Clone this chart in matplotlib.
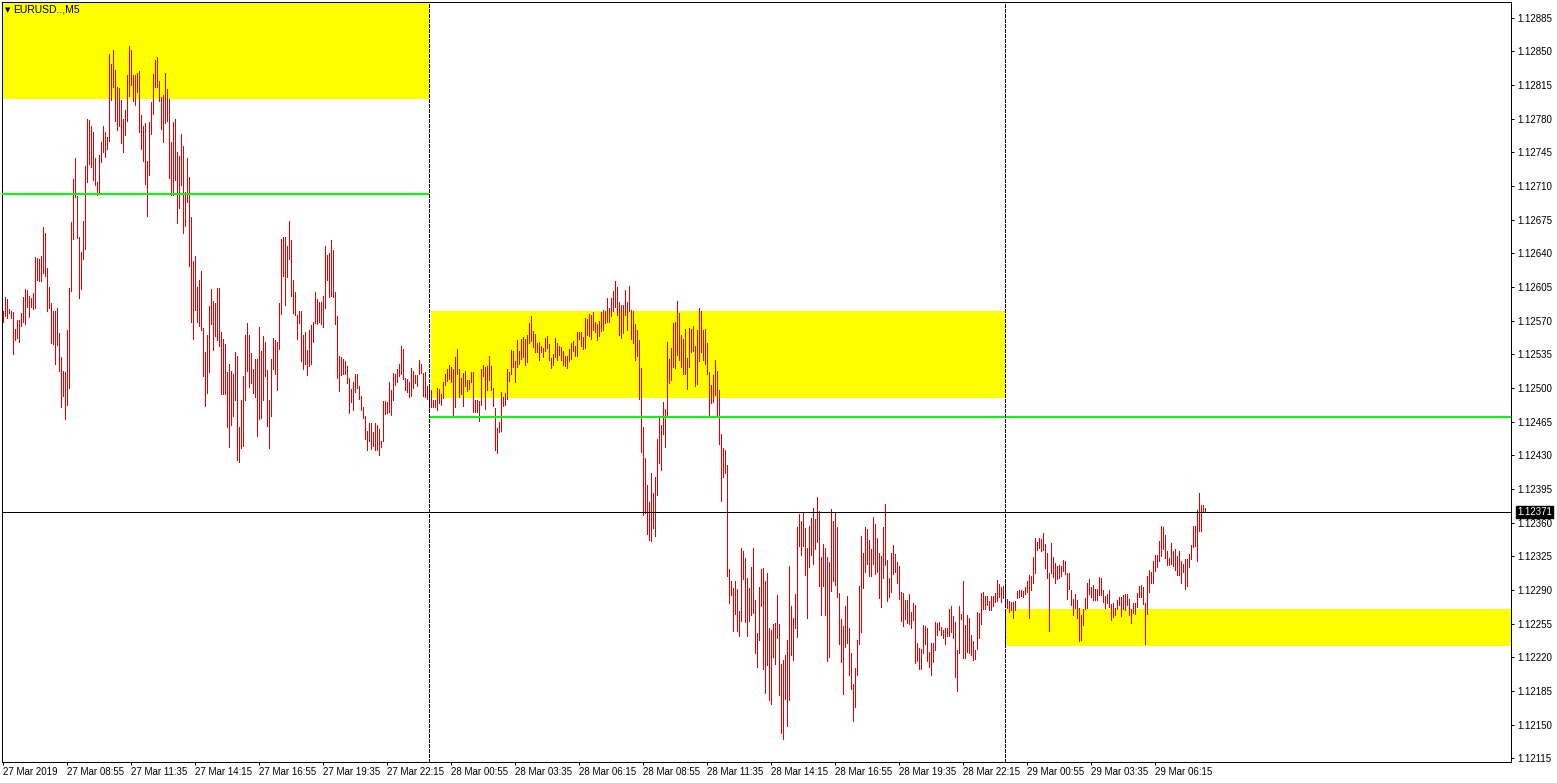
import numpy as np
import matplotlib.pyplot as plt
from matplotlib.patches import Rectangle

plt.rcParams['font.family'] = ['Liberation Sans', 'DejaVu Sans']
plt.rcParams['lines.scale_dashes'] = False

# EURUSD M5 bars, prices in points (1.12580 -> 12580), one bar every 5 min from 27 Mar 06:15
high_27 = [12580, 12595, 12592, 12582, 12580, 12579, 12561, 12571, 12571, 12578,
           12595, 12603, 12602, 12596, 12594, 12599, 12636, 12635, 12634, 12637,
           12667, 12661, 12625, 12605, 12588, 12580, 12580, 12583, 12557, 12532,
           12518, 12517, 12560, 12604, 12673, 12717, 12739, 12700, 12657, 12641,
           12674, 12731, 12780, 12779, 12772, 12766, 12739, 12714, 12742, 12756,
           12772, 12766, 12761, 12847, 12837, 12851, 12830, 12813, 12812, 12799,
           12780, 12789, 12825, 12855, 12851, 12825, 12825, 12827, 12829, 12784,
           12772, 12775, 12736, 12776, 12797, 12826, 12841, 12844, 12819, 12802,
           12805, 12827, 12811, 12800, 12756, 12776, 12780, 12745, 12741, 12764,
           12751, 12704, 12739, 12719, 12678, 12632, 12637, 12605, 12612, 12622,
           12562, 12537, 12555, 12585, 12603, 12590, 12588, 12604, 12604, 12558,
           12551, 12546, 12517, 12525, 12518, 12514, 12537, 12533, 12459, 12488,
           12512, 12555, 12568, 12555, 12536, 12520, 12530, 12530, 12563, 12538,
           12554, 12548, 12519, 12488, 12530, 12552, 12550, 12548, 12588, 12655,
           12657, 12657, 12648, 12674, 12654, 12612, 12600, 12576, 12580, 12580,
           12555, 12558, 12539, 12560, 12565, 12569, 12600, 12592, 12589, 12589,
           12596, 12648, 12638, 12640, 12654, 12643, 12600, 12575, 12533, 12532,
           12530, 12528, 12523, 12510, 12499, 12506, 12515, 12514, 12502, 12492,
           12480, 12471, 12455, 12464, 12464, 12454, 12464, 12461, 12457, 12445,
           12486, 12486, 12485, 12506, 12498, 12516, 12515, 12520, 12525, 12544,
           12541, 12510, 12509, 12506, 12521, 12518, 12513, 12513, 12529, 12525,
           12516, 12517, 12502]
low_27 = [12569, 12575, 12573, 12578, 12573, 12535, 12550, 12552, 12548, 12564,
          12569, 12567, 12584, 12574, 12584, 12582, 12583, 12612, 12611, 12611,
          12619, 12616, 12580, 12583, 12547, 12546, 12525, 12545, 12518, 12480,
          12492, 12468, 12482, 12500, 12601, 12655, 12698, 12656, 12594, 12603,
          12634, 12644, 12714, 12733, 12730, 12716, 12711, 12701, 12702, 12735,
          12745, 12740, 12748, 12757, 12799, 12813, 12778, 12768, 12772, 12755,
          12745, 12763, 12777, 12804, 12815, 12798, 12794, 12808, 12766, 12748,
          12736, 12712, 12679, 12721, 12764, 12785, 12813, 12813, 12798, 12769,
          12756, 12775, 12778, 12718, 12701, 12701, 12716, 12671, 12687, 12711,
          12661, 12668, 12693, 12627, 12569, 12551, 12581, 12569, 12564, 12560,
          12512, 12481, 12495, 12517, 12567, 12539, 12554, 12550, 12544, 12494,
          12494, 12494, 12459, 12439, 12462, 12471, 12488, 12425, 12423, 12438,
          12440, 12487, 12518, 12501, 12505, 12495, 12491, 12450, 12468, 12469,
          12487, 12512, 12460, 12438, 12471, 12520, 12514, 12498, 12540, 12577,
          12616, 12586, 12615, 12634, 12596, 12578, 12576, 12551, 12568, 12528,
          12520, 12525, 12513, 12523, 12525, 12548, 12568, 12566, 12569, 12567,
          12563, 12583, 12612, 12595, 12596, 12595, 12567, 12510, 12497, 12513,
          12515, 12515, 12505, 12474, 12485, 12477, 12496, 12500, 12489, 12477,
          12469, 12447, 12435, 12445, 12437, 12440, 12435, 12435, 12430, 12439,
          12445, 12473, 12474, 12475, 12472, 12488, 12503, 12506, 12512, 12514,
          12509, 12498, 12496, 12491, 12492, 12500, 12505, 12502, 12515, 12516,
          12492, 12491, 12489]

high_28 = [12502, 12498, 12488, 12488, 12500, 12499, 12494,
           12506, 12515, 12520, 12524, 12522, 12520, 12532, 12540, 12520, 12510,
           12516, 12518, 12508, 12508, 12517, 12517, 12487, 12487, 12486, 12520,
           12524, 12522, 12523, 12533, 12523, 12500, 12479, 12458, 12465, 12496,
           12491, 12495, 12520, 12517, 12539, 12538, 12528, 12550, 12538, 12551,
           12553, 12551, 12555, 12568, 12575, 12559, 12556, 12547, 12548, 12544,
           12542, 12552, 12554, 12546, 12531, 12535, 12552, 12547, 12544, 12543,
           12538, 12533, 12533, 12541, 12547, 12549, 12544, 12558, 12558, 12558,
           12553, 12573, 12572, 12577, 12576, 12579, 12569, 12566, 12570, 12579,
           12581, 12580, 12593, 12583, 12594, 12601, 12611, 12605, 12589, 12586,
           12586, 12602, 12589, 12606, 12581, 12580, 12567, 12560, 12550, 12521,
           12459, 12427, 12399, 12381, 12412, 12391, 12407, 12447, 12469, 12462,
           12485, 12478, 12548, 12530, 12542, 12568, 12569, 12590, 12578, 12555,
           12551, 12561, 12531, 12562, 12561, 12564, 12544, 12560, 12583, 12580,
           12560, 12561, 12547, 12517, 12503, 12513, 12529, 12518, 12498, 12452,
           12438, 12436, 12420, 12312, 12299, 12292, 12299, 12291, 12268, 12334,
           12331, 12323, 12302, 12292, 12314, 12334, 12280, 12245, 12293, 12312,
           12313, 12299, 12308, 12250, 12248, 12255, 12256, 12285, 12255, 12213,
           12217, 12222, 12238, 12315, 12273, 12261, 12286, 12355, 12369, 12362,
           12370, 12354, 12334, 12357, 12365, 12375, 12364, 12387, 12372, 12324,
           12338, 12334, 12324, 12319, 12374, 12362, 12370, 12355, 12287, 12260,
           12253, 12273, 12284, 12251, 12224, 12192, 12209, 12238, 12294, 12346,
           12328, 12355, 12353, 12342, 12333, 12366, 12359, 12344, 12328, 12325,
           12355, 12379, 12321, 12302, 12328, 12337, 12327, 12319, 12315, 12288,
           12287, 12280, 12280, 12286, 12267, 12276, 12274, 12235, 12230, 12229,
           12254, 12253, 12251, 12226, 12235, 12235, 12257, 12256, 12257, 12252,
           12248, 12251, 12250, 12270, 12273, 12263, 12257, 12228, 12273, 12265,
           12299, 12254, 12264, 12261, 12243, 12237, 12228, 12267, 12266, 12287,
           12288, 12284, 12284, 12279, 12284, 12284, 12287, 12300, 12296, 12293,
           12294]
low_28 = [12479, 12480, 12480, 12480, 12477, 12484, 12482,
          12490, 12503, 12507, 12509, 12506, 12472, 12480, 12514, 12491, 12494,
          12481, 12502, 12497, 12499, 12506, 12475, 12475, 12475, 12466, 12482,
          12512, 12478, 12498, 12508, 12498, 12481, 12436, 12432, 12454, 12455,
          12481, 12482, 12489, 12507, 12514, 12522, 12506, 12522, 12525, 12530,
          12532, 12524, 12527, 12547, 12549, 12543, 12537, 12537, 12529, 12537,
          12532, 12538, 12542, 12529, 12521, 12524, 12532, 12529, 12534, 12529,
          12524, 12523, 12521, 12528, 12530, 12538, 12533, 12533, 12551, 12544,
          12540, 12542, 12555, 12554, 12551, 12560, 12558, 12550, 12554, 12559,
          12560, 12568, 12569, 12569, 12575, 12580, 12584, 12576, 12555, 12552,
          12557, 12576, 12560, 12580, 12551, 12547, 12529, 12533, 12489, 12433,
          12368, 12370, 12348, 12342, 12341, 12354, 12346, 12389, 12422, 12415,
          12452, 12439, 12472, 12505, 12508, 12522, 12521, 12534, 12529, 12522,
          12515, 12515, 12499, 12522, 12537, 12538, 12502, 12504, 12528, 12537,
          12529, 12525, 12515, 12472, 12484, 12485, 12493, 12472, 12442, 12382,
          12407, 12412, 12305, 12276, 12285, 12247, 12265, 12247, 12242, 12258,
          12301, 12257, 12242, 12258, 12264, 12266, 12224, 12210, 12238, 12273,
          12208, 12183, 12212, 12176, 12171, 12220, 12213, 12240, 12181, 12141,
          12135, 12177, 12149, 12176, 12222, 12217, 12250, 12241, 12336, 12326,
          12336, 12306, 12261, 12314, 12326, 12317, 12333, 12340, 12294, 12264,
          12294, 12264, 12216, 12220, 12289, 12299, 12295, 12283, 12234, 12215,
          12182, 12231, 12235, 12202, 12187, 12154, 12168, 12202, 12234, 12246,
          12292, 12309, 12317, 12305, 12305, 12317, 12307, 12309, 12282, 12272,
          12302, 12316, 12279, 12283, 12288, 12307, 12309, 12297, 12281, 12258,
          12253, 12260, 12256, 12255, 12250, 12259, 12214, 12216, 12208, 12208,
          12225, 12234, 12216, 12210, 12202, 12215, 12228, 12243, 12248, 12243,
          12240, 12234, 12242, 12242, 12246, 12240, 12200, 12185, 12225, 12260,
          12219, 12219, 12226, 12225, 12222, 12217, 12218, 12229, 12240, 12255,
          12270, 12270, 12274, 12269, 12269, 12273, 12277, 12279, 12283, 12278,
          12282]

high_29 = [12297, 12281, 12279, 12277, 12278, 12279, 12289, 12290, 12290,
           12289, 12293, 12299, 12306, 12305, 12324, 12344, 12340, 12344, 12343,
           12349, 12338, 12328, 12308, 12339, 12324, 12318, 12315, 12316, 12315,
           12321, 12320, 12308, 12308, 12290, 12281, 12286, 12280, 12271, 12264,
           12270, 12282, 12297, 12301, 12293, 12295, 12291, 12291, 12304, 12302,
           12290, 12284, 12286, 12290, 12275, 12276, 12271, 12280, 12283, 12283,
           12285, 12286, 12286, 12281, 12270, 12276, 12276, 12287, 12294, 12295,
           12293, 12276, 12305, 12311, 12309, 12320, 12326, 12326, 12341, 12357,
           12355, 12347, 12331, 12323, 12339, 12331, 12333, 12325, 12331, 12320,
           12317, 12322, 12322, 12327, 12337, 12356, 12356, 12373, 12391, 12378,
           12378, 12375]
low_29 = [12274, 12271, 12267, 12269, 12261, 12269, 12282, 12283, 12284,
          12283, 12286, 12288, 12261, 12290, 12297, 12308, 12332, 12334, 12331,
          12332, 12313, 12302, 12247, 12308, 12303, 12297, 12301, 12302, 12305,
          12310, 12307, 12281, 12291, 12274, 12264, 12271, 12261, 12237, 12238,
          12254, 12270, 12271, 12286, 12283, 12280, 12280, 12280, 12285, 12285,
          12278, 12271, 12276, 12272, 12259, 12262, 12264, 12270, 12274, 12263,
          12270, 12269, 12274, 12264, 12256, 12266, 12265, 12272, 12283, 12283,
          12275, 12234, 12265, 12288, 12297, 12297, 12310, 12314, 12320, 12325,
          12333, 12323, 12316, 12316, 12317, 12315, 12311, 12306, 12306, 12297,
          12309, 12291, 12294, 12314, 12322, 12335, 12336, 12320, 12351, 12351,
          12372, 12371]

time_labels = ['27 Mar 2019', '27 Mar 08:55', '27 Mar 11:35', '27 Mar 14:15', '27 Mar 16:55',
               '27 Mar 19:35', '27 Mar 22:15', '28 Mar 00:55', '28 Mar 03:35', '28 Mar 06:15',
               '28 Mar 08:55', '28 Mar 11:35', '28 Mar 14:15', '28 Mar 16:55', '28 Mar 19:35',
               '28 Mar 22:15', '29 Mar 00:55', '29 Mar 03:35', '29 Mar 06:15']
price_labels = [1.12115, 1.12150, 1.12185, 1.12220, 1.12255, 1.12290, 1.12325, 1.12360,
                1.12395, 1.12430, 1.12465, 1.12500, 1.12535, 1.12570, 1.12605, 1.12640,
                1.12675, 1.12710, 1.12745, 1.12780, 1.12815, 1.12850, 1.12885]

bid = 1.12371
day_starts = [213, 501]                      # bar index of 28 Mar 00:00 and 29 Mar 00:00
levels = [1.12702, 1.12470]                  # green lines
zones = [(1.12800, 1.13000), (1.12490, 1.12580), (1.12232, 1.12270)]

highs = 1 + np.array(high_27 + high_28 + high_29) / 1e5
lows = 1 + np.array(low_27 + low_28 + low_29) / 1e5
x = np.arange(len(highs))

BAR = '#E00000'
YEL = '#FFFF00'
GRN = '#00FF00'
px = 0.72  # one pixel in points at dpi 100

fig = plt.figure(figsize=(15.57, 7.83), dpi=100)
ax = fig.add_axes([2 / 1557, 21 / 783, 1509 / 1557, 760 / 783])
xmin, xmax = -0.5, 754.0
ax.set_xlim(xmin, xmax)
ax.set_ylim(1.121112, 1.129012)

# zones
ax.add_patch(Rectangle((xmin, zones[0][0]), day_starts[0] - xmin, zones[0][1] - zones[0][0],
                       fc=YEL, ec='none', zorder=1))
ax.add_patch(Rectangle((day_starts[0] + 1, zones[1][0]), day_starts[1] - day_starts[0] - 1,
                       zones[1][1] - zones[1][0], fc=YEL, ec='none', zorder=1))
ax.add_patch(Rectangle((day_starts[1], zones[2][0]), xmax - day_starts[1],
                       zones[2][1] - zones[2][0], fc=YEL, ec='none', zorder=1))

# bars
ax.vlines(x, lows, highs, colors=BAR, linewidth=px, antialiased=False, zorder=2)

# levels
ax.hlines(levels[0], xmin, day_starts[0], colors=GRN, linewidth=2 * px, zorder=3)
ax.hlines(levels[1], day_starts[0], xmax, colors=GRN, linewidth=2 * px, zorder=3)
ax.axhline(bid, color='black', linewidth=px, antialiased=False, zorder=3)

# day separators
for d in day_starts:
    ax.axvline(d, color='black', linewidth=px, linestyle=(0, (3 * px, 2 * px)),
               antialiased=False, zorder=4)
ax.vlines(day_starts[1], zones[2][0], zones[2][1], colors='#0000FF', linewidth=px,
          linestyles=[(0, (3 * px, 2 * px))], antialiased=False, zorder=5)

# axes styling
for s in ax.spines.values():
    s.set_linewidth(px)
    s.set_color('black')
ax.yaxis.tick_right()
ax.set_yticks(price_labels)
ax.set_yticklabels(['%.5f' % p for p in price_labels])
ax.set_xticks(np.arange(len(time_labels)) * 32)
ax.set_xticklabels(time_labels, ha='left')
ax.tick_params(axis='both', length=3 * px, width=px, labelsize=7, colors='black')
ax.tick_params(axis='y', pad=3 * px)
ax.tick_params(axis='x', pad=2 * px)

ax.annotate('%.5f' % bid, xy=(1, bid), xycoords=('axes fraction', 'data'),
            xytext=(6, 0), textcoords='offset pixels', ha='left', va='center',
            fontsize=7, color='white', zorder=6,
            bbox=dict(boxstyle='square,pad=0.12', fc='black', ec='black'))

fig.text(5 / 1557, 1 - 10 / 783, '\u25bc', fontsize=5, family='DejaVu Sans',
         ha='left', va='center')
fig.text(13 / 1557, 1 - 10 / 783, 'EURUSD..,M5', fontsize=7.5, ha='left', va='center')

fig.savefig('out.png', dpi=100, facecolor='white')
